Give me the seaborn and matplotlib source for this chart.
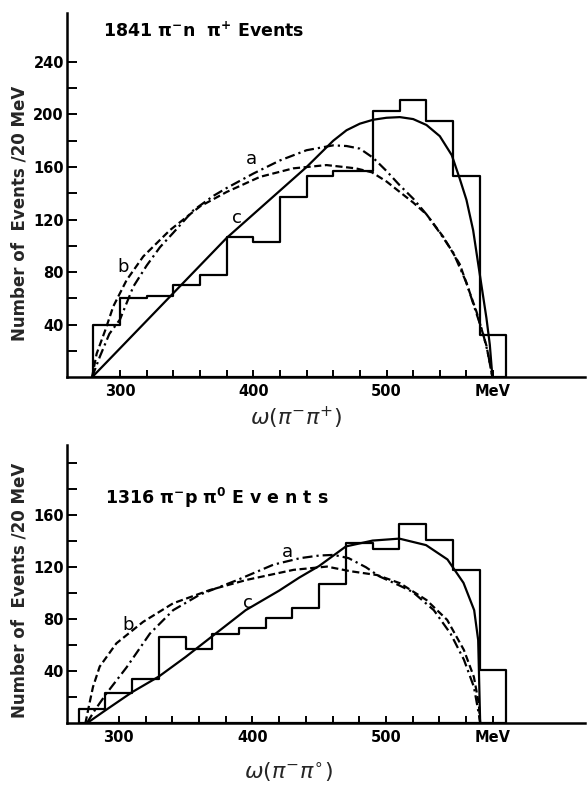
import numpy as np
import pandas as pd
import matplotlib
matplotlib.use("Agg")
import matplotlib.pyplot as plt
import seaborn as sns

# ---------------- data: top panel (pi- n pi+) ----------------
top_edges = [280, 300, 320, 340, 360, 380, 400, 420, 440, 460, 490, 510, 530, 550, 570, 590]
top_counts = [40, 60, 62, 70, 78, 107, 103, 137, 153, 157, 203, 211, 195, 153, 32]

top_a_x = [279, 285, 292, 300, 310, 320, 330, 340, 355, 370, 380, 400, 420, 440, 460, 470, 480, 490,
           500, 510, 520, 530, 540, 550, 560, 567, 572, 576, 579.5]
top_a_y = [0, 16, 33, 44, 69, 85, 99, 110, 127, 138, 144, 155, 165, 172.8, 176.5, 176, 174, 167,
           157, 146, 136, 124, 110, 95, 72, 50, 35, 19, 0]

top_b_x = [279, 282.5, 289, 295, 305, 317.5, 337.5, 360, 380, 405, 430, 455, 477, 489, 500, 510,
           520, 530, 542.5, 555, 567.5, 575, 579.5]
top_b_y = [0, 18, 36, 54, 74, 92, 112, 130, 141, 152.5, 159, 161.5, 159, 156, 149, 141,
           133, 124, 107, 86, 50, 24, 0]

top_c_x = [279, 290, 300, 320, 340, 360, 380, 400, 420, 440, 450, 460, 470, 480, 490, 500, 510,
           520, 530, 540, 549, 555, 560, 565, 569, 572, 575, 577.5, 579.5]
top_c_y = [0, 11.5, 22, 43, 64, 85, 106, 124, 142, 160, 170, 180, 188, 193, 196, 197.5, 198,
           196.5, 192, 183.5, 169, 151, 135, 112, 85, 65, 45, 25, 0]

# ---------------- data: bottom panel (pi- p pi0) ----------------
bot_edges = [270, 290, 310, 330, 350, 370, 390, 410, 430, 450, 470, 490, 510, 530, 550, 570, 590]
bot_counts = [11, 23, 34, 66, 57, 69, 73, 81, 89, 107, 139, 134, 153, 141, 118, 41]

bot_a_x = [276, 282, 290.8, 305.8, 323.3, 340.7, 360.8, 388.3, 415.8, 435.8, 450, 460.8, 472,
           485, 495, 510, 520, 535.8, 548.3, 558.3, 565.8, 569.5, 570.5]
bot_a_y = [0, 10, 23, 43, 69, 87, 99, 110, 122, 127, 129, 129.5, 127,
           120, 113, 106, 101, 87, 69, 49, 28, 7, 0]

bot_b_x = [275, 278, 280.7, 285.7, 298.2, 318.2, 340.7, 368.2, 395.8, 430.8, 455.8, 473, 493.3,
           510.5, 530.3, 545.8, 558.3, 565.8, 569.5, 570.5]
bot_b_y = [0, 15, 28, 43.6, 61.5, 78, 92.3, 102.5, 110.3, 118, 120.5, 117, 114,
           107.7, 94.8, 79.5, 56.4, 35.6, 14.9, 0]

bot_c_x = [276, 290, 310, 330, 350, 370, 395, 420, 435, 450, 470, 490, 510, 530, 546, 558, 566,
           569, 570.5]
bot_c_y = [0, 10, 24, 36, 51, 67, 87, 102, 112, 121, 136, 140.5, 142, 137, 126, 108, 87, 64, 0]

x_ticks = list(range(300, 600, 20))
x_ticklabels = ["300" if t == 300 else "400" if t == 400 else "500" if t == 500
                else "MeV" if t == 580 else "" for t in x_ticks]
top_y_ticks = list(range(20, 260, 20))
top_y_labelled = [40, 80, 120, 160, 200, 240]
bot_y_ticks = list(range(20, 220, 20))
bot_y_labelled = [40, 80, 120, 160]

ylabel_text = "Number of  Events /20 MeV"

# ---------------- styling ----------------
sns.set_theme(style="ticks")
plt.rcParams["font.family"] = ["DejaVu Sans"]
plt.rcParams["mathtext.fontset"] = "dejavusans"

LW = 1.6
DASH_A = (0, (4.5, 1.8, 1.0, 1.8))
DASH_B = (0, (3.2, 1.6))

fig = plt.figure(figsize=(5.88, 7.87), dpi=100)
fig.patch.set_facecolor("white")

ax_top = fig.add_axes([0.1134, 0.5206, 0.8816, 0.4625])
ax_bot = fig.add_axes([0.1134, 0.0809, 0.8816, 0.3537])


def draw_panel(ax, edges, counts, curves, xlim, ylim, yticks, ylabelled, labels, title, title_xy):
    centers = [(edges[i] + edges[i + 1]) / 2 for i in range(len(counts))]
    hist_df = pd.DataFrame({"x": centers, "w": counts})
    sns.histplot(data=hist_df, x="x", weights="w", bins=edges, element="step", fill=True,
                 color="black", facecolor=(1, 1, 1, 0), edgecolor="black",
                 linewidth=LW, ax=ax)
    for (cx, cy, ls) in curves:
        sns.lineplot(x=cx, y=cy, color="black", linewidth=LW, linestyle=ls, ax=ax,
                     errorbar=None)
    ax.set_xlim(*xlim)
    ax.set_ylim(*ylim)
    ax.set_xticks(x_ticks)
    ax.set_xticklabels(x_ticklabels)
    ax.set_yticks(yticks)
    ax.set_yticklabels([str(t) if t in ylabelled else "" for t in yticks])
    ax.tick_params(axis="x", direction="in", length=5, width=1.4, pad=5,
                   labelsize=10.5, colors="black")
    ax.tick_params(axis="y", direction="in", length=7, width=1.4, pad=2,
                   labelsize=10.5, colors="black")
    for lab in ax.get_xticklabels() + ax.get_yticklabels():
        lab.set_fontweight("bold")
    for side in ["top", "right"]:
        ax.spines[side].set_visible(False)
    for side in ["left", "bottom"]:
        ax.spines[side].set_linewidth(1.8)
        ax.spines[side].set_color("black")
    ax.set_xlabel("")
    ax.set_ylabel("")
    ax.set_facecolor("white")
    for (txt, lx, ly) in labels:
        ax.text(lx, ly, txt, fontsize=13, ha="center", va="center", color="black")
    ax.text(title_xy[0], title_xy[1], title, transform=ax.transAxes, fontsize=12.5,
            fontweight="bold", ha="left", va="center", color="black")


draw_panel(ax_top, top_edges, top_counts,
           [(top_a_x, top_a_y, DASH_A), (top_b_x, top_b_y, DASH_B), (top_c_x, top_c_y, "-")],
           (260, 649), (0, 277), top_y_ticks, top_y_labelled,
           [("a", 399, 166), ("b", 302.5, 84), ("c", 387.5, 121)],
           r"1841 $\mathbf{\pi^{-}}$n  $\mathbf{\pi^{+}}$ Events", (0.07, 0.951))

draw_panel(ax_bot, bot_edges, bot_counts,
           [(bot_a_x, bot_a_y, DASH_A), (bot_b_x, bot_b_y, DASH_B), (bot_c_x, bot_c_y, "-")],
           (261, 649), (0, 214), bot_y_ticks, bot_y_labelled,
           [("a", 426, 132), ("b", 307, 75.6), ("c", 397, 92.3)],
           r"1316 $\mathbf{\pi^{-}}$p $\mathbf{\pi^{0}}$ E v e n t s", (0.074, 0.81))

fig.text(0.034, 0.729, ylabel_text, rotation=90, ha="center", va="center",
         fontsize=12, fontweight="bold")
fig.text(0.034, 0.25, ylabel_text, rotation=90, ha="center", va="center",
         fontsize=12, fontweight="bold")
fig.text(0.503, 0.469, r"$\omega(\pi^{-}\pi^{+})$", ha="center", va="center", fontsize=16)
fig.text(0.49, 0.019, r"$\omega(\pi^{-}\pi^{\circ})$", ha="center", va="center", fontsize=16)

fig.savefig("out.png", dpi=100, facecolor="white")
